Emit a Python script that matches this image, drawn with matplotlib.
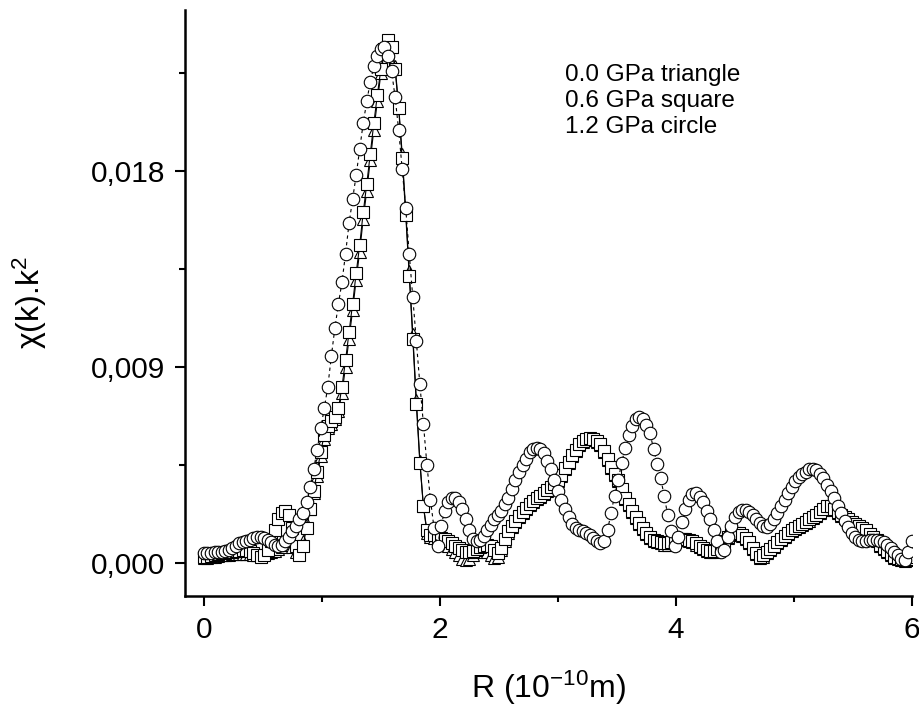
import numpy as np
import matplotlib
matplotlib.use("Agg")
import matplotlib.pyplot as plt
from matplotlib.ticker import FixedLocator, FuncFormatter

plt.rcParams['font.family'] = ['Liberation Sans', 'DejaVu Sans']
plt.rcParams['mathtext.fontset'] = 'custom'
plt.rcParams['mathtext.rm'] = 'Liberation Sans'
plt.rcParams['mathtext.it'] = 'Liberation Sans:italic'

# chi(k).k^2 in units of 1e-3, sampled every 0.03 in R from 0 to 6
chi_12gpa = [  # circles
    0.45, 0.45, 0.48, 0.50, 0.50, 0.52, 0.55, 0.60, 0.70, 0.80,
    0.90, 0.95, 1.00, 1.05, 1.15, 1.20, 1.20, 1.15, 1.05, 0.95,
    0.85, 0.80, 0.85, 1.00, 1.20, 1.45, 1.70, 2.00, 2.30, 2.80,
    3.50, 4.30, 5.20, 6.20, 7.10, 8.10, 9.50, 10.80, 11.90, 12.90,
    14.20, 15.60, 16.70, 17.80, 19.00, 20.20, 21.20, 22.10, 22.80, 23.30,
    23.60, 23.70, 23.30, 22.60, 21.40, 19.90, 18.10, 16.30, 14.20, 12.20,
    10.20, 8.20, 6.40, 4.50, 2.90, 1.60, 0.80, 1.70, 2.40, 2.80,
    3.00, 3.00, 2.80, 2.50, 2.00, 1.50, 1.10, 1.00, 1.05, 1.25,
    1.50, 1.75, 2.00, 2.20, 2.40, 2.70, 3.00, 3.40, 3.80, 4.20,
    4.50, 4.80, 5.10, 5.25, 5.30, 5.25, 5.05, 4.70, 4.30, 3.80,
    3.30, 2.90, 2.50, 2.10, 1.80, 1.60, 1.50, 1.45, 1.40, 1.30,
    1.15, 1.00, 0.90, 1.00, 1.50, 2.30, 3.10, 3.80, 4.60, 5.30,
    5.90, 6.30, 6.60, 6.70, 6.60, 6.35, 5.95, 5.25, 4.55, 3.90,
    3.10, 2.20, 1.45, 0.80, 1.20, 1.90, 2.50, 2.90, 3.15, 3.20,
    3.05, 2.80, 2.40, 2.00, 1.50, 1.00, 0.50, 0.60, 1.20, 1.70,
    2.10, 2.35, 2.45, 2.45, 2.35, 2.20, 2.00, 1.85, 1.70, 1.65,
    1.80, 2.00, 2.30, 2.60, 2.90, 3.20, 3.50, 3.75, 3.95, 4.10,
    4.20, 4.30, 4.30, 4.25, 4.10, 3.90, 3.60, 3.30, 3.00, 2.60,
    2.30, 1.95, 1.65, 1.40, 1.20, 1.05, 1.00, 1.00, 1.05, 1.05,
    1.05, 1.00, 0.95, 0.85, 0.70, 0.50, 0.35, 0.20, 0.15, 0.50,
    1.00,
]

chi_06gpa = [  # squares
    0.30, 0.30, 0.32, 0.35, 0.40, 0.45, 0.45, 0.50, 0.50, 0.55,
    0.55, 0.60, 0.60, 0.55, 0.45, 0.35, 0.30, 0.35, 0.60, 1.00,
    1.50, 2.00, 2.30, 2.40, 2.20, 1.60, 0.80, 0.35, 0.80, 1.60,
    2.50, 3.30, 4.20, 5.10, 5.90, 6.30, 6.50, 6.70, 7.10, 8.10,
    9.30, 10.60, 11.90, 13.30, 14.60, 16.10, 17.40, 18.80, 20.20, 21.50,
    22.70, 23.60, 24.00, 23.70, 22.70, 20.90, 18.60, 16.00, 13.20, 10.30,
    7.30, 4.60, 2.60, 1.50, 1.30, 1.30, 1.20, 1.15, 1.10, 1.00,
    0.90, 0.80, 0.70, 0.60, 0.50, 0.50, 0.55, 0.65, 0.75, 0.80,
    0.85, 0.80, 0.60, 0.45, 0.70, 1.10, 1.45, 1.70, 1.95, 2.15,
    2.35, 2.55, 2.70, 2.85, 3.00, 3.10, 3.20, 3.35, 3.50, 3.65,
    3.80, 4.05, 4.35, 4.65, 4.95, 5.20, 5.45, 5.60, 5.70, 5.75,
    5.70, 5.60, 5.45, 5.15, 4.80, 4.40, 4.10, 3.80, 3.40, 3.00,
    2.70, 2.40, 2.10, 1.85, 1.60, 1.40, 1.20, 1.05, 1.00, 0.95,
    0.90, 0.90, 0.95, 1.00, 1.10, 1.10, 1.10, 1.05, 1.00, 0.90,
    0.80, 0.70, 0.60, 0.55, 0.55, 0.65, 0.80, 1.00, 1.20, 1.35,
    1.40, 1.40, 1.30, 1.15, 0.95, 0.70, 0.45, 0.30, 0.35, 0.50,
    0.65, 0.80, 0.95, 1.10, 1.25, 1.40, 1.50, 1.60, 1.70, 1.80,
    1.90, 2.00, 2.10, 2.20, 2.35, 2.50, 2.60, 2.60, 2.50, 2.35,
    2.20, 2.10, 2.00, 1.90, 1.80, 1.70, 1.60, 1.50, 1.35, 1.20,
    1.05, 0.85, 0.70, 0.55, 0.40, 0.30, 0.25, 0.20, 0.15, 0.20,
    0.30,
]

chi_00gpa = [  # triangles
    0.25, 0.25, 0.28, 0.30, 0.32, 0.35, 0.35, 0.38, 0.40, 0.40,
    0.40, 0.42, 0.42, 0.40, 0.38, 0.35, 0.35, 0.40, 0.45, 0.50,
    0.55, 0.65, 0.75, 0.85, 0.90, 0.75, 0.50, 0.40, 1.00, 1.80,
    2.50, 3.20, 4.00, 4.90, 5.70, 6.20, 6.40, 6.60, 7.00, 7.80,
    9.00, 10.30, 11.60, 13.00, 14.30, 15.80, 17.10, 18.50, 19.90, 21.20,
    22.50, 23.50, 23.90, 23.70, 22.80, 21.00, 18.80, 16.20, 13.40, 10.50,
    7.50, 4.70, 2.60, 1.40, 1.20, 1.15, 1.10, 1.00, 0.90, 0.80,
    0.65, 0.50, 0.35, 0.20, 0.15, 0.20, 0.35, 0.50, 0.60, 0.60,
    0.50, 0.35, 0.25, 0.30, 0.60, 1.00, 1.40, 1.65, 1.90, 2.10,
    2.30, 2.50, 2.65, 2.80, 2.95, 3.05, 3.15, 3.30, 3.45, 3.60,
    3.75, 4.00, 4.30, 4.60, 4.90, 5.15, 5.40, 5.55, 5.65, 5.70,
    5.65, 5.55, 5.40, 5.10, 4.75, 4.35, 4.05, 3.75, 3.35, 2.95,
    2.65, 2.35, 2.05, 1.80, 1.55, 1.35, 1.15, 1.00, 0.95, 0.90,
    0.85, 0.85, 0.90, 0.95, 1.05, 1.05, 1.05, 1.00, 0.95, 0.85,
    0.75, 0.65, 0.55, 0.50, 0.50, 0.60, 0.75, 0.95, 1.15, 1.30,
    1.35, 1.35, 1.25, 1.10, 0.90, 0.65, 0.40, 0.25, 0.30, 0.45,
    0.60, 0.75, 0.90, 1.05, 1.20, 1.35, 1.45, 1.55, 1.65, 1.75,
    1.85, 1.95, 2.05, 2.15, 2.30, 2.45, 2.55, 2.55, 2.45, 2.30,
    2.15, 2.05, 1.95, 1.85, 1.75, 1.65, 1.55, 1.45, 1.30, 1.15,
    1.00, 0.80, 0.65, 0.50, 0.35, 0.25, 0.20, 0.15, 0.10, 0.15,
    0.25,
]

legend_lines = ["0.0 GPa triangle", "0.6 GPa square", "1.2 GPa circle"]

R = np.linspace(0, 6, len(chi_12gpa))

fig = plt.figure(figsize=(9.2, 7.07), dpi=100)
ax = fig.add_axes([0.2011, 0.1574, 0.7902, 0.8287])

common = dict(color='black', lw=0.8, mfc='white', mec='black', mew=0.8)
ax.plot(R, np.array(chi_00gpa) * 1e-3, '-', marker='^', ms=8.5, **common)
ax.plot(R, np.array(chi_06gpa) * 1e-3, '-', marker='s', ms=8, **common)
ax.plot(R, np.array(chi_12gpa) * 1e-3, '--', marker='o', ms=9, dashes=(3, 3), **common)

ax.set_xlim(-0.16, 6.0)
ax.set_ylim(-0.0015, 0.0254)

ax.spines['top'].set_visible(False)
ax.spines['right'].set_visible(False)
ax.spines['left'].set_linewidth(1.8)
ax.spines['bottom'].set_linewidth(1.8)

ax.xaxis.set_major_locator(FixedLocator([0, 2, 4, 6]))
ax.xaxis.set_minor_locator(FixedLocator([1, 3, 5]))
ax.yaxis.set_major_locator(FixedLocator([0, 0.009, 0.018]))
ax.yaxis.set_minor_locator(FixedLocator([0.0045, 0.0135, 0.0225]))
ax.yaxis.set_major_formatter(FuncFormatter(lambda v, _: f"{v:.3f}".replace('.', ',')))
ax.xaxis.set_major_formatter(FuncFormatter(lambda v, _: f"{v:.0f}"))

ax.tick_params(which='major', direction='out', length=7.5, width=1.5, labelsize=21.5, pad=7)
ax.tick_params(which='minor', direction='out', length=4, width=1.5)

ax.set_xlabel("R (10$^{-10}$m)", fontsize=23, labelpad=18)
ax.set_ylabel("χ(k).k$^{2}$", fontsize=23, labelpad=30)

for i, line in enumerate(legend_lines):
    fig.text(565 / 920, 1 - (75 + 26 * i) / 707, line, fontsize=17.5, va='center', ha='left')

fig.savefig("out.png", dpi=100)
